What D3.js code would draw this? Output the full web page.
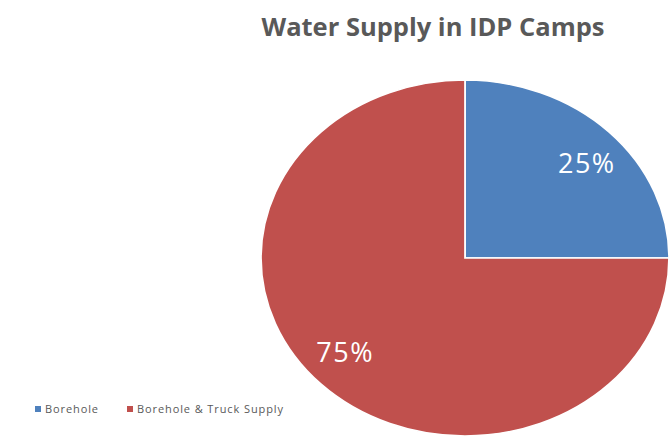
<!DOCTYPE html>
<html>
<head>
<meta charset="utf-8">
<script src="https://cdn.jsdelivr.net/npm/d3@7"></script>
<style>
  body { margin: 0; background: #fff; }
</style>
</head>
<body>
<div id="chart-area"></div>
<script>
// data
var categories = ["Borehole", "Borehole & Truck Supply"]
var values = [25, 75]
var colors = ["#4F81BD", "#C0504D"]

var cw = 671
var ch = 441

var svg = d3.select("#chart-area").append("svg")
    .attr("width", cw)
    .attr("height", ch)

svg.append("text")
    .attr("x", 433)
    .attr("y", 36)
    .attr("text-anchor", "middle")
    .attr("font-family", "Open Sans, sans-serif")
    .attr("font-weight", "bold")
    .attr("font-size", "25.5px")
    .attr("fill", "#595959")
    .text("Water Supply in IDP Camps")

// pie is stretched a bit horizontally in the reference
var cx = 465
var cy = 258
var ry = 178
var rx = 204
var g = svg.append("g")
    .attr("transform", "translate(" + cx + ", " + cy + ") scale(" + (rx / ry) + ", 1)")

var pie = d3.pie().sort(null).value(d => d)
var arc = d3.arc().innerRadius(0).outerRadius(ry)
var labelArc = d3.arc().innerRadius(ry * 0.75).outerRadius(ry * 0.75)

var arcs = pie(values)

g.selectAll("path")
    .data(arcs)
    .enter()
    .append("path")
    .attr("d", arc)
    .attr("fill", (d, i) => colors[i])
    .attr("stroke", "#fff")
    .attr("stroke-width", 1.5)

svg.selectAll(".slice-label")
    .data(arcs)
    .enter()
    .append("text")
    .attr("class", "slice-label")
    .attr("x", d => cx + labelArc.centroid(d)[0] * 1.28 + 1)
    .attr("y", d => cy + labelArc.centroid(d)[1])
    .attr("dy", "0.35em")
    .attr("text-anchor", "middle")
    .attr("font-family", "Open Sans, sans-serif")
    .attr("font-size", "27px")
    .attr("letter-spacing", "1.5px")
    .attr("fill", "#fff")
    .text(d => d.data + "%")

// legend
var legendX = [35, 127]
var legend = svg.selectAll(".legend-item")
    .data(categories)
    .enter()
    .append("g")
    .attr("class", "legend-item")
    .attr("transform", (d, i) => "translate(" + legendX[i] + ", 409)")

legend.append("rect")
    .attr("x", 0)
    .attr("y", -3)
    .attr("width", 6)
    .attr("height", 6)
    .attr("fill", (d, i) => colors[i])

legend.append("text")
    .attr("x", 10)
    .attr("y", 0)
    .attr("dy", "0.35em")
    .attr("font-family", "Open Sans, sans-serif")
    .attr("font-size", "11px")
    .attr("letter-spacing", "0.9px")
    .attr("fill", "#595959")
    .text(d => d)
</script>
</body>
</html>
